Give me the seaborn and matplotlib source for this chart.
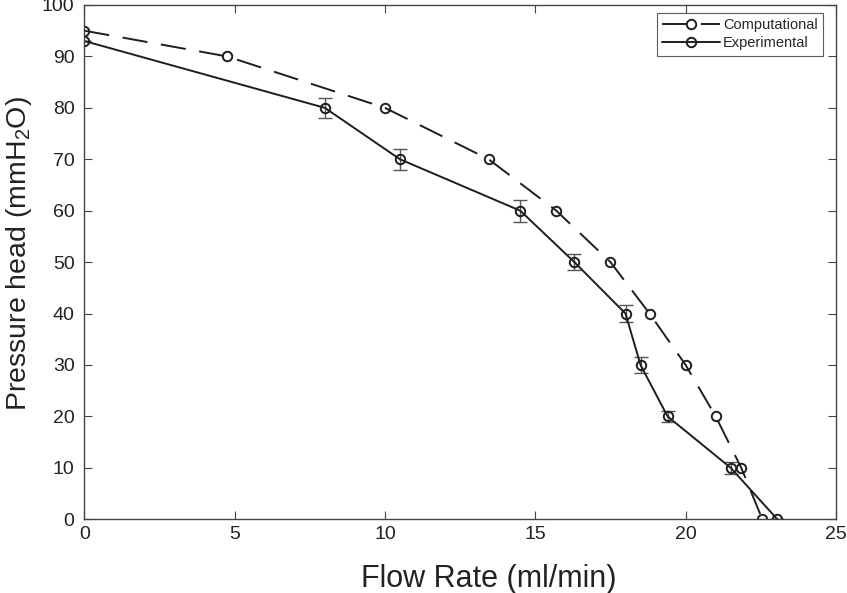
import numpy as np
import pandas as pd
import matplotlib
matplotlib.use("Agg")
import matplotlib.pyplot as plt
import seaborn as sns

# computational curve
comp_flow = [0, 4.75, 10.0, 13.45, 15.7, 17.5, 18.8, 20.0, 21.0, 21.85, 22.55]
comp_head = [95, 90, 80, 70, 60, 50, 40, 30, 20, 10, 0]

# experimental curve + error
exp_flow = [0, 8.0, 10.5, 14.5, 16.3, 18.0, 18.5, 19.4, 21.5, 23.05]
exp_head = [93, 80, 70, 60, 50, 40, 30, 20, 10, 0]
exp_err = [0, 1.9, 2.0, 2.1, 1.5, 1.6, 1.5, 1.1, 1.1, 0]

x_ticks = [0, 5, 10, 15, 20, 25]
y_ticks = [0, 10, 20, 30, 40, 50, 60, 70, 80, 90, 100]

sns.set_style("ticks")
plt.rcParams['font.family'] = ['Liberation Sans', 'DejaVu Sans']
plt.rcParams['mathtext.fontset'] = 'custom'
plt.rcParams['mathtext.rm'] = 'Liberation Sans'
plt.rcParams['mathtext.it'] = 'Liberation Sans'

comp = pd.DataFrame({'flow': comp_flow, 'head': comp_head})
exp = pd.DataFrame({'flow': exp_flow, 'head': exp_head, 'err': exp_err})

fig = plt.figure(figsize=(8.47, 5.93), dpi=100)
ax = fig.add_axes([0.0995, 0.1243, 0.8875, 0.8673])

mk = dict(marker='o', markersize=6.8, markerfacecolor='none',
          markeredgecolor='#1e1e1e', markeredgewidth=1.4)

sns.lineplot(data=comp, x='flow', y='head', sort=False, estimator=None,
             color='#1e1e1e', linewidth=1.4, label='Computational', ax=ax, **mk)
ax.lines[-1].set_dashes((13, 7))

ax.errorbar(exp['flow'], exp['head'], yerr=exp['err'], fmt='none',
            ecolor='#555555', elinewidth=1.0, capsize=5, capthick=1.0)

sns.lineplot(data=exp, x='flow', y='head', sort=False, estimator=None,
             color='#1e1e1e', linewidth=1.4, label='Experimental', ax=ax, **mk)

ax.set_xlim(0, 25)
ax.set_ylim(0, 100)
ax.set_xticks(x_ticks)
ax.set_yticks(y_ticks)
ax.tick_params(direction='in', length=6, width=0.8, labelsize=14,
               top=True, right=True, colors='#444444',
               labelcolor='#222222')
ax.tick_params(axis='x', pad=5)
ax.tick_params(axis='y', pad=7)
for s in ax.spines.values():
    s.set_visible(True)
    s.set_linewidth(1.0)
    s.set_color('#444444')

ax.set_xlabel('Flow Rate (ml/min)', fontsize=22, labelpad=15, color='#222222')
ax.set_ylabel('Pressure head (mmH$_2$O)', fontsize=20.5, labelpad=6, color='#222222')
ax.xaxis.label.set_x(0.538)
ax.yaxis.label.set_y(0.516)

leg = ax.legend(loc='upper right', bbox_to_anchor=(0.9827, 0.9844),
                borderaxespad=0, fontsize=10.5, frameon=True, fancybox=False,
                edgecolor='#333333', handlelength=4.0,
                labelspacing=0.3, handletextpad=0.2, borderpad=0.35)
leg.get_frame().set_linewidth(0.8)

fig.savefig('out.png', dpi=100)
